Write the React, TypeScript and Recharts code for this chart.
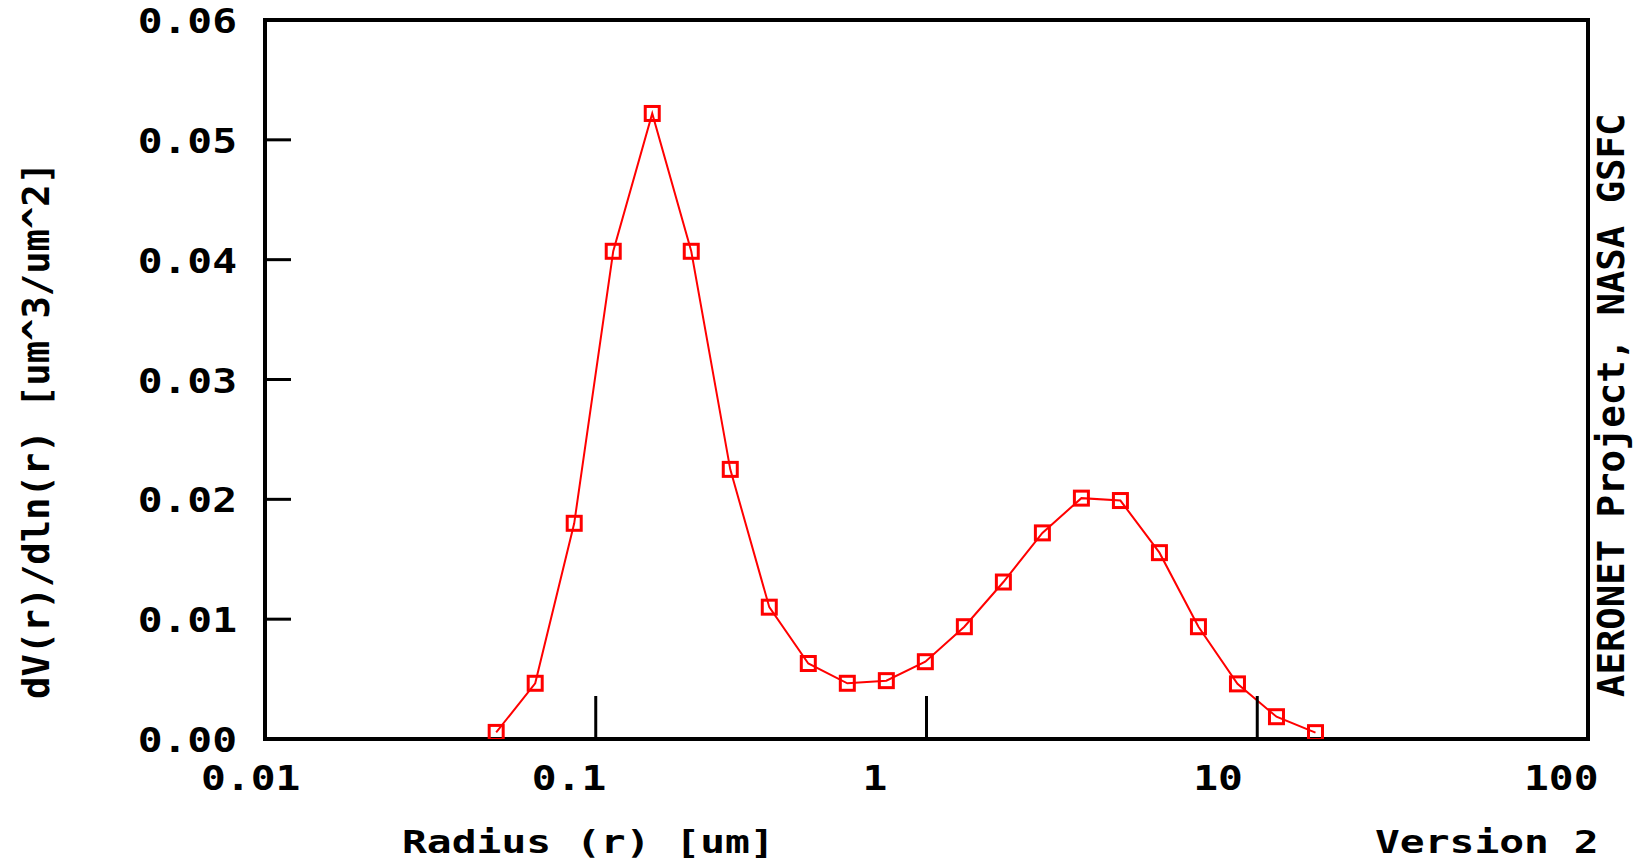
import React from 'react';
import { LineChart, Line, XAxis, YAxis, ReferenceArea, Customized } from 'recharts';

// Radius bins [um] (AERONET 22-bin size distribution)
const RADIUS_UM = [
  0.05, 0.065604, 0.086077, 0.112939, 0.148184, 0.194429, 0.255105, 0.334716,
  0.439173, 0.576227, 0.756052, 0.991996, 1.301571, 1.707757, 2.240702,
  2.939966, 3.857452, 5.06126, 6.640745, 8.713145, 11.432287, 15.0,
];
// dV(r)/dln(r) [um^3/um^2]
const DV_DLNR = [
  0.00055, 0.00465, 0.0180, 0.0407, 0.0522, 0.0407, 0.0225, 0.0110,
  0.0063, 0.00465, 0.00487, 0.00645, 0.00937, 0.0131, 0.0172,
  0.0201, 0.0199, 0.01555, 0.00937, 0.0046, 0.00186, 0.00053,
];
const X_TICKS = [0.01, 0.1, 1, 10, 100];
const X_TICK_LABELS = ['0.01', '0.1', '1', '10', '100'];
const X_INNER_TICKS = [0.1, 1, 10];
const Y_TICKS = [0, 0.01, 0.02, 0.03, 0.04, 0.05, 0.06];
const Y_TICK_LABELS = ['0.00', '0.01', '0.02', '0.03', '0.04', '0.05', '0.06'];

const data = RADIUS_UM.map((r, i) => ({ r, v: DV_DLNR[i] }));

const FONT = "'DejaVu Sans Mono', 'Liberation Mono', monospace";

function PixText({ x, y, children, size = 33, sx = 1.25, anchor = 'start', rotate = 0 }: any) {
  return (
    <text
      transform={`translate(${x},${y}) rotate(${rotate}) scale(${sx},1)`}
      fontFamily={FONT}
      fontWeight="bold"
      fontSize={size}
      textAnchor={anchor}
      fill="#000"
    >
      {children}
    </text>
  );
}

function XTick(props: any) {
  const { x, y, payload } = props;
  const v = payload.value;
  const idx = X_TICKS.findIndex((t) => Math.abs(t - v) < 1e-9);
  const inner = X_INNER_TICKS.some((t) => Math.abs(t - v) < 1e-9);
  return (
    <g>
      {inner && <line x1={x} x2={x} y1={y} y2={y - 43} stroke="#000" strokeWidth={3} />}
      <PixText x={x - 64} y={y + 51}>{X_TICK_LABELS[idx]}</PixText>
    </g>
  );
}

function YTick(props: any) {
  const { x, y, payload } = props;
  const v = payload.value;
  const idx = Y_TICKS.findIndex((t) => Math.abs(t - v) < 1e-9);
  return (
    <g>
      <line x1={x} x2={x + 26} y1={y} y2={y} stroke="#000" strokeWidth={3} />
      <PixText x={x - 28} y={y + 13} anchor="end">{Y_TICK_LABELS[idx]}</PixText>
    </g>
  );
}

function SquareDot(props: any) {
  const { cx, cy, index } = props;
  if (cx == null || cy == null) return <g key={`d${index}`} />;
  return (
    <rect
      key={`d${index}`}
      x={cx - 7}
      y={cy - 7}
      width={14}
      height={14}
      fill="none"
      stroke="#ff0000"
      strokeWidth={3}
    />
  );
}

function Titles() {
  return (
    <g>
      <PixText x={402} y={853} size={32} sx={1.29}>Radius (r) [um]</PixText>
      <PixText x={1375} y={853} size={32} sx={1.29}>Version 2</PixText>
      <PixText x={49} y={699} rotate={-90} size={37} sx={1.005}>dV(r)/dln(r) [um^3/um^2]</PixText>
      <PixText x={1624} y={697} rotate={-90} size={37} sx={1.008}>AERONET Project, NASA GSFC</PixText>
    </g>
  );
}

export default function App() {
  return (
    <div style={{ position: 'absolute', left: 0, top: 0, width: 1634, height: 861, background: '#fff' }}>
      <LineChart
        width={1634}
        height={861}
        data={data}
        margin={{ top: 20, right: 46, bottom: 0, left: 0 }}
      >
        <XAxis
          dataKey="r"
          type="number"
          scale="log"
          domain={[0.01, 100]}
          ticks={X_TICKS}
          allowDataOverflow
          height={122}
          axisLine={false}
          tickLine={false}
          tickSize={0}
          tickMargin={0}
          interval={0}
          tick={(p: any) => <XTick {...p} />}
        />
        <YAxis
          type="number"
          domain={[0, 0.06]}
          ticks={Y_TICKS}
          allowDataOverflow
          width={265}
          axisLine={false}
          tickLine={false}
          tickSize={0}
          tickMargin={0}
          interval={0}
          tick={(p: any) => <YTick {...p} />}
        />
        <ReferenceArea
          x1={0.01}
          x2={100}
          y1={0}
          y2={0.06}
          fill="none"
          fillOpacity={0}
          stroke="#000"
          strokeWidth={4}
          ifOverflow="visible"
        />
        <Line
          dataKey="v"
          stroke="#ff0000"
          strokeWidth={2}
          dot={(p: any) => <SquareDot {...p} />}
          activeDot={false}
          isAnimationActive={false}
        />
        <Customized component={Titles} />
      </LineChart>
    </div>
  );
}
